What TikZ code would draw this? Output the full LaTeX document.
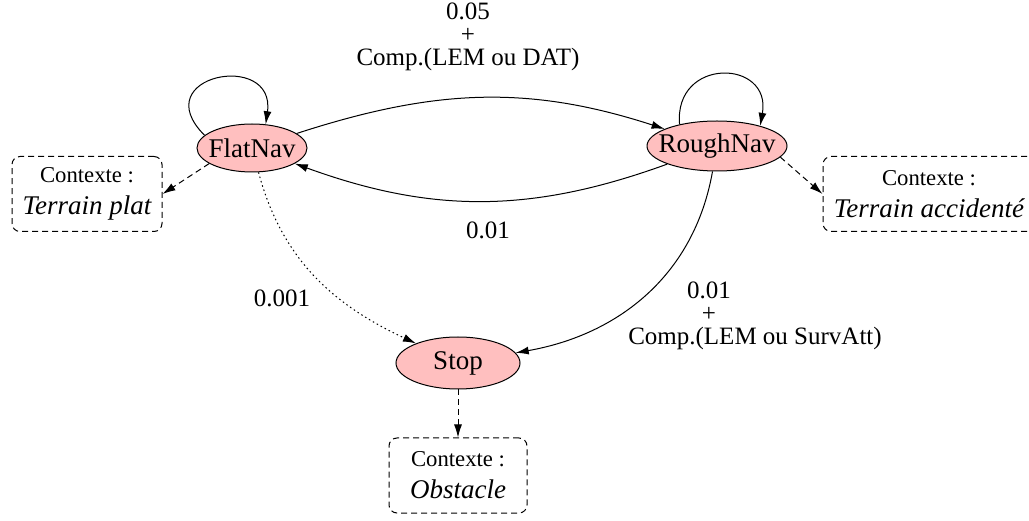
\documentclass[tikz,border=0pt]{standalone}
\usepackage{fontspec}
\setmainfont{Liberation Serif}
\usepackage{xcolor}
\usepackage{tikz}
\usetikzlibrary{positioning, arrows.meta, shapes.geometric}
\definecolor{etatrose}{HTML}{FFBFBF}

\tikzset{
  etat/.style={ellipse, draw, fill=etatrose, line width=1pt,
               inner xsep=-9pt, inner ysep=-4pt,
               font=\fontsize{27}{30}\selectfont},
  ctxbox/.style={draw, dash pattern=on 6pt off 4pt, rounded corners=8pt,
                 line width=1pt, align=center, minimum height=75pt, inner sep=0pt,
                 font=\fontsize{22.7}{32}\selectfont},
  fleche/.style={-{Latex[length=13pt,width=8pt]}, line width=1pt},
  ctxfleche/.style={fleche, dash pattern=on 6pt off 4pt},
  probfleche/.style={fleche, dash pattern=on 1.5pt off 3pt},
  proba/.style={align=center, inner sep=0pt, font=\fontsize{25}{23}\selectfont}
}
\newcommand{\ctxtxt}[1]{Contexte :\\{\fontsize{27}{32}\selectfont\itshape #1}}
\newcommand{\agauche}[1]{\makebox[92pt][l]{\makebox[0pt]{#1}}}

\begin{document}
\begin{tikzpicture}[x=1pt, y=-1pt]
    \useasboundingbox (0,0) rectangle (1029,521);

    % etats
    \node[etat, minimum width=110pt, minimum height=48pt] (flatnav) at (252,148) {FlatNav};
    \node[etat, minimum width=140pt, minimum height=50pt] (roughnav) at (717,146) {RoughNav};
    \node[etat, minimum width=124pt, minimum height=52pt] (stop) at (458,363) {Stop};

    % contextes
    \node[ctxbox, minimum width=150pt] (ctxflat) at (87,194) {\ctxtxt{Terrain plat}};
    \node[ctxbox, minimum width=212pt] (ctxrough) at (929,194) {\ctxtxt{Terrain accident\'e}};
    \node[ctxbox, minimum width=138pt, below=48pt of stop] (ctxstop) {\ctxtxt{Obstacle}};

    % probabilites
    \node[proba] (lbltop) at (468,37) {0.05\\+\\Comp.(LEM ou DAT)};
    \node[proba] (lblrf) at (488,230) {0.01};
    \node[proba] (lblfs) at (282,298) {0.001};
    \node[proba] (lblrs) at (755,316) {\agauche{0.01}\\\agauche{+}\\Comp.(LEM ou SurvAtt)};

    % transitions
    \draw[fleche] (flatnav.165) .. controls +(-135:85) and +(-82:75) .. (flatnav.60);
    \draw[fleche] (roughnav.150) .. controls +(-95:68) and +(-80:68) .. (roughnav.25);
    \draw[fleche] (flatnav) to[out=18, in=162] (roughnav);
    \draw[fleche] (roughnav) to[out=200, in=-20] (flatnav);
    \draw[probfleche] (flatnav) to[out=-75, in=155] (stop);
    \draw[fleche] (roughnav) to[out=-100, in=10] (stop);

    % vers les contextes
    \draw[ctxfleche] (flatnav.200) -- (ctxflat.east);
    \draw[ctxfleche] (roughnav.-10) -- (ctxrough.west);
    \draw[ctxfleche] (stop) -- (ctxstop);
\end{tikzpicture}
\end{document}
